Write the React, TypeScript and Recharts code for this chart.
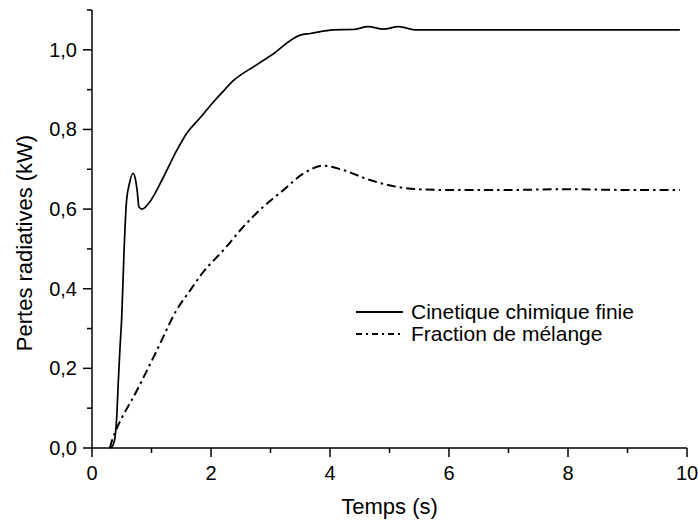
import { LineChart, Line, XAxis, YAxis, Legend, Label } from 'recharts';

// Cinetique chimique finie (solid)
const cinetiqueTime = [
  0.32, 0.36, 0.39, 0.42, 0.44, 0.47, 0.5, 0.54, 0.58, 0.63, 0.69, 0.73, 0.76, 0.79,
  0.84, 0.97, 1.2, 1.42, 1.59, 1.81, 2.0, 2.2, 2.37, 2.55, 2.71, 3.0, 3.5, 3.67, 4.06, 4.39,
  4.64, 4.9, 5.15, 5.46, 6.0, 7.0, 8.0, 9.0, 9.88,
];
const cinetiqueValue = [
  0, 0.01, 0.03, 0.09, 0.16, 0.25, 0.33, 0.5, 0.62, 0.665, 0.69, 0.675, 0.645, 0.605,
  0.6, 0.618, 0.68, 0.746, 0.79, 0.828, 0.862, 0.895, 0.922, 0.942, 0.957, 0.985, 1.037, 1.041, 1.05, 1.051,
  1.058, 1.052, 1.058, 1.05, 1.05, 1.05, 1.05, 1.05, 1.05,
];

// Fraction de mélange (dash-dot)
const fractionTime = [
  0.3, 0.35, 0.39, 0.75, 1.09, 1.42, 1.65, 1.87, 2.21, 2.54, 2.88, 3.22, 3.55, 3.89,
  4.22, 4.67, 5.12, 5.62, 6.02, 7.0, 8.0, 9.0, 9.88,
];
const fractionValue = [
  0, 0.025, 0.04, 0.143, 0.245, 0.346, 0.396, 0.442, 0.497, 0.555, 0.606, 0.648, 0.689, 0.709,
  0.698, 0.673, 0.656, 0.649, 0.648, 0.648, 0.65, 0.648, 0.648,
];

const xTicks = [0, 1, 2, 3, 4, 5, 6, 7, 8, 9, 10];
const yTicks = [0, 0.1, 0.2, 0.3, 0.4, 0.5, 0.6, 0.7, 0.8, 0.9, 1.0, 1.1];

const seriesNames = ['Cinetique chimique finie', 'Fraction de mélange'];

const cinetiqueData = cinetiqueTime.map((t, i) => ({ t, v: cinetiqueValue[i] }));
const fractionData = fractionTime.map((t, i) => ({ t, v: fractionValue[i] }));

const FONT = '"Liberation Sans", Arial, sans-serif';
const DASH_DOT = '9 4 2.5 4';

const XTick = ({ x, y, payload }: any) => {
  const major = payload.value % 2 === 0;
  return (
    <g>
      <line x1={x} x2={x} y1={y} y2={y + (major ? 9 : 5)} stroke="#000" strokeWidth={1.5} />
      {major && (
        <text x={x} y={y + 25} textAnchor="middle" dominantBaseline="central" fontSize={20} fontFamily={FONT} fill="#000">
          {payload.value}
        </text>
      )}
    </g>
  );
};

const YTick = ({ x, y, payload }: any) => {
  const major = Math.round(payload.value * 10) % 2 === 0;
  return (
    <g>
      <line x1={x} x2={x - (major ? 9 : 5)} y1={y} y2={y} stroke="#000" strokeWidth={1.5} />
      {major && (
        <text x={x - 15} y={y} textAnchor="end" dominantBaseline="central" fontSize={20} fontFamily={FONT} fill="#000">
          {payload.value.toFixed(1).replace('.', ',')}
        </text>
      )}
    </g>
  );
};

const renderLegend = () => (
  <div style={{ fontFamily: FONT, fontSize: 21, color: '#000', lineHeight: '22px' }}>
    {seriesNames.map((name, i) => (
      <div key={name} style={{ display: 'flex', alignItems: 'center', height: 22 }}>
        <svg width={52} height={22} style={{ marginRight: 3 }}>
          <line
            x1={0}
            x2={47}
            y1={11}
            y2={11}
            stroke="#000"
            strokeWidth={1.8}
            strokeDasharray={i === 1 ? '6 4 2 4' : undefined}
          />
        </svg>
        <span>{name}</span>
      </div>
    ))}
  </div>
);

export default function App() {
  return (
    <div style={{ position: 'absolute', left: 0, top: 0, width: 698, height: 525, background: '#fff' }}>
      <LineChart width={698} height={525} margin={{ top: 10, right: 11, left: 0, bottom: 0 }}>
        <XAxis
          type="number"
          dataKey="t"
          domain={[0, 10]}
          ticks={xTicks}
          interval={0}
          tickSize={0}
          tickMargin={0}
          tick={<XTick />}
          height={77}
          axisLine={{ stroke: '#000', strokeWidth: 1.5 }}
          allowDuplicatedCategory={false}
        >
          <Label
            content={({ viewBox }: any) => (
              <text
                x={viewBox.x + viewBox.width / 2}
                y={viewBox.y + 58}
                textAnchor="middle"
                dominantBaseline="central"
                fontSize={22}
                fontFamily={FONT}
                fill="#000"
              >
                Temps (s)
              </text>
            )}
          />
        </XAxis>
        <YAxis
          type="number"
          dataKey="v"
          domain={[0, 1.1]}
          ticks={yTicks}
          interval={0}
          tickSize={0}
          tickMargin={0}
          tick={<YTick />}
          width={92}
          axisLine={{ stroke: '#000', strokeWidth: 1.5 }}
        >
          <Label
            content={({ viewBox }: any) => {
              const cx = 24;
              const cy = viewBox.y + viewBox.height / 2 + 14;
              return (
                <text
                  x={cx}
                  y={cy}
                  transform={`rotate(-90 ${cx} ${cy})`}
                  textAnchor="middle"
                  dominantBaseline="central"
                  fontSize={22}
                  fontFamily={FONT}
                  fill="#000"
                >
                  Pertes radiatives (kW)
                </text>
              );
            }}
          />
        </YAxis>
        <Legend
          content={renderLegend}
          layout="vertical"
          align="center"
          verticalAlign="middle"
          wrapperStyle={{ position: 'absolute', left: 356, top: 301, width: 320 }}
        />
        <Line
          data={cinetiqueData}
          dataKey="v"
          name={seriesNames[0]}
          type="monotone"
          stroke="#000"
          strokeWidth={1.7}
          dot={false}
          isAnimationActive={false}
        />
        <Line
          data={fractionData}
          dataKey="v"
          name={seriesNames[1]}
          type="monotone"
          stroke="#000"
          strokeWidth={2}
          strokeDasharray={DASH_DOT}
          dot={false}
          isAnimationActive={false}
        />
      </LineChart>
    </div>
  );
}
